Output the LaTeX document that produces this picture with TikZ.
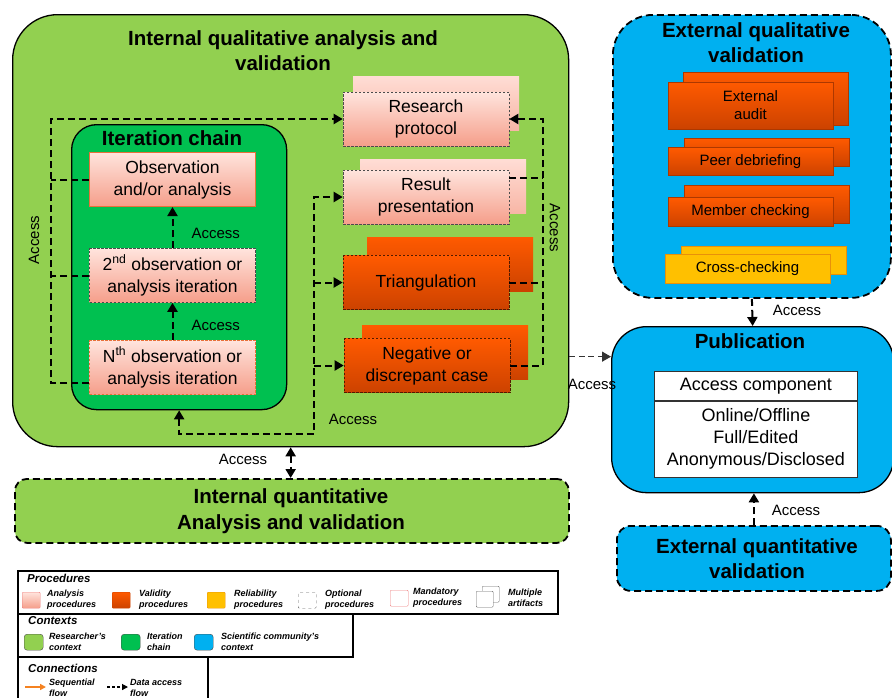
\documentclass[tikz,border=0pt]{standalone}
\usepackage{fontspec}
\setmainfont{Liberation Sans}
\usetikzlibrary{arrows.meta, positioning}
\definecolor{rescgreen}{HTML}{92D050}
\definecolor{itergreen}{HTML}{00C050}
\definecolor{scicblue}{HTML}{00B0F0}
\definecolor{anatop}{HTML}{FFE4DD}
\definecolor{anabot}{HTML}{F59E8A}
\definecolor{backtop}{HTML}{FFDDD5}
\definecolor{backbot}{HTML}{F8B6A6}
\definecolor{valtop}{HTML}{FF5A00}
\definecolor{valbot}{HTML}{CC4200}
\definecolor{relyellow}{HTML}{FFC000}
\definecolor{relborder}{HTML}{E8900A}
\definecolor{seqorange}{HTML}{F58220}
\definecolor{mandred}{HTML}{EE7F7F}
\definecolor{obsborder}{HTML}{E8703A}

\newcommand{\titlefont}{\fontsize{20.5}{25}\selectfont\bfseries}
\newcommand{\boxfont}{\fontsize{17.5}{22}\selectfont}
\newcommand{\smallboxfont}{\fontsize{15}{18}\selectfont}
\newcommand{\legfont}{\fontsize{9}{11}\selectfont\bfseries\itshape}

\begin{document}
\begin{tikzpicture}[x=1pt, y=-1pt,
  context/.style={draw=black, line width=1.3pt, anchor=north west, inner sep=0pt},
  optcontext/.style={context, dash pattern=on 7pt off 4pt, line width=1.8pt},
  title/.style={align=center, font=\titlefont},
  anabox/.style={minimum width=166pt, minimum height=54pt, align=center, font=\boxfont,
                 top color=anatop, bottom color=anabot, draw=black!70,
                 dash pattern=on 2.5pt off 1.5pt, line width=0.6pt, inner sep=1pt},
  anaback/.style={minimum width=166pt, minimum height=54pt, top color=backtop, bottom color=backbot},
  valbox/.style={anabox, top color=valtop, bottom color=valbot, draw=black!60!valbot},
  valback/.style={anaback, top color=valtop, bottom color=valbot},
  extval/.style={font=\smallboxfont, align=center, top color=valtop, bottom color=valbot,
                 draw=valbot!85!black, line width=0.4pt, minimum width=165pt, inner sep=1pt},
  relbox/.style={extval, top color=relyellow, bottom color=relyellow, draw=relborder},
  tablecell/.style={draw=black!80, fill=white, minimum width=203pt, align=center,
                    font=\fontsize{18}{22}\selectfont, line width=0.8pt, inner sep=1pt},
  access/.style={draw=black, line width=2pt, dash pattern=on 7pt off 4pt},
  tip/.style={-{Triangle[length=9pt, width=10pt]}},
  tips/.style={{Triangle[length=9pt, width=10pt]}-{Triangle[length=9pt, width=10pt]}},
  lbl/.style={font=\fontsize{15}{18}\selectfont, inner sep=1pt},
  legframe/.style={draw=black, line width=2pt, anchor=north west, inner sep=0pt, fill=white},
  legtitle/.style={anchor=west, font=\fontsize{11.5}{13}\selectfont\bfseries\itshape, inner sep=0pt},
  legswatch/.style={minimum width=18pt, minimum height=16pt, anchor=north west, inner sep=0pt, rounded corners=1pt},
  legtext/.style={anchor=west, align=left, font=\legfont, inner sep=0pt}
]
\useasboundingbox (0,0) rectangle (892,697);

% contexts
\node[context, fill=rescgreen, rounded corners=45pt, minimum width=556pt, minimum height=432pt] (iqual) at (12,14) {};
\node[title] (iqualtitle) at (283,50.5) {Internal qualitative analysis and\\validation};
\node[context, fill=itergreen, rounded corners=25pt, minimum width=215pt, minimum height=285pt] (chain) at (71,124) {};
\node[title] (chaintitle) at (172,138) {Iteration chain};
\node[optcontext, fill=rescgreen, rounded corners=12pt, minimum width=554pt, minimum height=64pt] (iquant) at (14,478) {};
\node[title, font=\fontsize{20.5}{26}\selectfont\bfseries] (iquanttitle) at (291,511) {Internal quantitative\\Analysis and validation};
\node[optcontext, fill=scicblue, rounded corners=40pt, minimum width=278pt, minimum height=283pt] (equal) at (612,14) {};
\node[title] (equaltitle) at (756,42.5) {External qualitative\\validation};
\node[context, fill=scicblue, rounded corners=35pt, minimum width=282pt, minimum height=166pt] (pub) at (611,326) {};
\node[title] (pubtitle) at (750,341) {Publication};
\node[optcontext, fill=scicblue, rounded corners=14pt, minimum width=274pt, minimum height=65pt] (equant) at (616,525) {};
\node[title] (equanttitle) at (757,558.5) {External quantitative\\validation};

% iteration chain
\node[anabox, solid, draw=obsborder, line width=1pt] (obs) at (172.5,179.5) {Observation\\and/or analysis};
\node[anabox] (second) at (172.5,275.5) {2\textsuperscript{nd} observation or\\analysis iteration};
\node[anabox, draw=obsborder] (nth) at (172.5,367.5) {N\textsuperscript{th} observation or\\analysis iteration};

% procedures of the researcher
\node[anaback] (protoback) at (436,103) {};
\node[anabox] (proto) at (426,119) {Research\\protocol};
\node[anaback] (resultback) at (443,186) {};
\node[anabox] (result) at (426,197) {Result\\presentation};
\node[valback] (triangback) at (450,264) {};
\node[valbox] (triang) at (426,282.5) {Triangulation};
\node[valback] (negback) at (445,352.5) {};
\node[valbox] (neg) at (427,365.5) {Negative or\\discrepant case};

% external procedures
\node[extval, minimum height=53pt] (auditback) at (765.5,98.5) {};
\node[extval, minimum height=47pt] (audit) at (750.5,105.5) {External\\audit};
\node[extval, minimum height=28pt] (peerback) at (766.5,152) {};
\node[extval, minimum height=28pt] (peer) at (750.5,161.5) {Peer debriefing};
\node[extval, minimum height=38pt] (memberback) at (766.5,204) {};
\node[extval, minimum height=29pt] (member) at (750.5,212) {Member checking};
\node[relbox, minimum height=28pt] (crossback) at (763.5,260) {};
\node[relbox, minimum height=29pt] (cross) at (747.5,268.5) {Cross-checking};

% access component
\node[tablecell, minimum height=29pt, anchor=north west] (acchead) at (654,371) {Access component};
\node[tablecell, minimum height=76pt, below=0pt of acchead] (accbody) {Online/Offline\\Full/Edited\\Anonymous/Disclosed};

% data access connections
\coordinate (lt) at (51,119);
\coordinate (bl) at (314,434);
\coordinate (br) at (543,119);
\draw[access, tip] ([yshift=-15.5pt]nth.west) -| (lt) -- (proto.west);
\draw[access] (obs.west) -- (obs.west -| lt);
\draw[access] (second.west) -- (second.west -| lt);
\node[lbl, rotate=90] (accleft) at (34,240) {Access};

\draw[access, tip] (second.north) -- (obs.south) node[lbl, pos=0.35, right=17pt] (accobs) {Access};
\draw[access, tip] (nth.north) -- (second.north |- second.south) node[lbl, pos=0.4, right=17pt] (accsec) {Access};

\draw[access, tips] (chain.south) |- (bl) |- (result.west);
\draw[access, tip] (triang.west -| bl) -- (triang.west);
\draw[access, tip] (neg.west -| bl) -- (neg.west);
\node[lbl] (accbottom) at (353,419) {Access};

\draw[access, tip] (neg.east) -| (br) -- (proto.east);
\draw[access] ([yshift=19pt]result.east) -- ([yshift=19pt]result.east -| br);
\draw[access] (triang.east) -- (triang.east -| br);
\node[lbl, rotate=-90] (accright) at (555,228) {Access};

\draw[access, draw=black!80, line width=1.3pt, dash pattern=on 6pt off 3.5pt, tip] ([yshift=-126pt]iqual.east) -- ([yshift=-126pt]iqual.east -| pub.west);
\node[lbl] (accpub) at (592,384) {Access};

\draw[access, tip] (equal.south) -- (pub.north);
\node[lbl] (accequal) at (797,310) {Access};
\draw[access, tip] (equant.north) -- (equant.north |- pub.south);
\node[lbl] (accequant) at (796,510) {Access};
\draw[access, tips] (iqual.south) -- (iqual.south |- iquant.north);
\node[lbl] (acciquant) at (243,459) {Access};

% legend
\node[legframe, minimum width=190pt, minimum height=50pt] (legcon) at (17,656) {};
\node[legframe, minimum width=335pt, minimum height=43pt] (legctx) at (17,613) {};
\node[legframe, minimum width=540pt, minimum height=43pt] (legproc) at (17,570) {};

\node[legtitle] (proctitle) at (27,578) {Procedures};
\node[legswatch, top color=anatop, bottom color=anabot, draw=mandred] (swana) at (22,592) {};
\node[legtext] (txana) at (47,600) {Analysis\\procedures};
\node[legswatch, top color=valtop, bottom color=valbot, draw=valbot] (swval) at (112,592) {};
\node[legtext] (txval) at (139,600) {Validity\\procedures};
\node[legswatch, fill=relyellow, draw=relborder] (swrel) at (207,592) {};
\node[legtext] (txrel) at (234,600) {Reliability\\procedures};
\node[legswatch, draw=black!60, dashed, fill=white] (swopt) at (298,592) {};
\node[legtext] (txopt) at (325,600) {Optional\\procedures};
\node[legswatch, draw=mandred, fill=white] (swman) at (390,590) {};
\node[legtext] (txman) at (413,598) {Mandatory\\procedures};
\node[legswatch, draw=black!60, fill=white, minimum width=17pt] (swmultback) at (482,586) {};
\node[legswatch, draw=black!60, fill=white, minimum width=17pt] (swmult) at (476,591) {};
\node[legtext] (txmult) at (508,598) {Multiple\\artifacts};

\node[legtitle] (ctxtitle) at (28,621) {Contexts};
\node[legswatch, fill=rescgreen, draw=black!70, rounded corners=3pt, minimum width=19pt] (swres) at (24,634) {};
\node[legtext] (txres) at (49,642) {Researcher's\\context};
\node[legswatch, fill=itergreen, draw=black!70, rounded corners=3pt, minimum width=19pt] (switer) at (121,634) {};
\node[legtext] (txiter) at (147,642) {Iteration\\chain};
\node[legswatch, fill=scicblue, draw=black!70, rounded corners=3pt, minimum width=19pt] (swsci) at (194,634) {};
\node[legtext] (txsci) at (221,642) {Scientific community's\\context};

\node[legtitle] (contitle) at (28,668) {Connections};
\coordinate (seqa) at (25,687);
\coordinate (seqb) at (46,687);
\draw[seqorange, line width=1.5pt, -{Triangle[length=6pt, width=6pt]}] (seqa) -- (seqb);
\node[legtext] (txseq) at (49,688) {Sequential\\flow};
\coordinate (daa) at (107,687);
\coordinate (dab) at (128,687);
\draw[black, line width=1.2pt, dash pattern=on 3pt off 2pt, -{Triangle[length=6pt, width=6pt]}] (daa) -- (dab);
\node[legtext] (txda) at (130,688) {Data access\\flow};
\end{tikzpicture}
\end{document}
